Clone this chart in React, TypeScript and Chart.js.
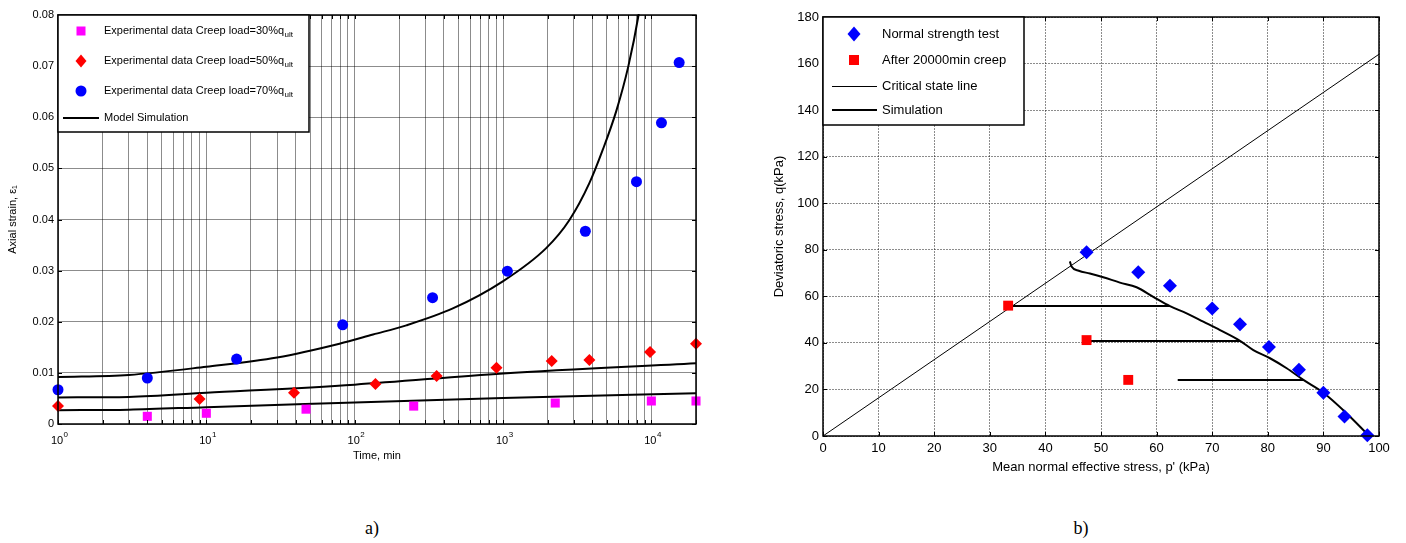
import React, { useEffect, useRef } from 'react';
import { Chart, registerables } from 'chart.js';

Chart.register(...registerables);

const FONT = '"Liberation Sans", Arial, Helvetica, sans-serif';

// ---------------- (a) creep tests: axial strain vs time ----------------
const timeDecades = [1, 10, 100, 1000, 10000];
const timeDecadeExponents = ['0', '1', '2', '3', '4'];
const timeMinorMultipliers = [1, 2, 3, 4, 5, 6, 7, 8, 9];
const timeMin = 1;
const timeMax = 20000;
const strainMin = 0;
const strainMax = 0.08;
const strainStep = 0.01;

const creep30Time = [4, 10, 47, 250, 2250, 10000, 20000];
const creep30Strain = [0.0015, 0.0021, 0.0029, 0.0035, 0.0041, 0.0045, 0.0045];

const creep50Time = [1, 9, 39, 138, 357, 904, 2130, 3820, 9800, 20000];
const creep50Strain = [0.0035, 0.0049, 0.0061, 0.0078, 0.0094, 0.011, 0.0123, 0.0125, 0.0141, 0.0157];

const creep70Time = [1, 4, 16, 83, 335, 1070, 3590, 7940, 11700, 15400];
const creep70Strain = [0.0067, 0.009, 0.0127, 0.0194, 0.0247, 0.0299, 0.0377, 0.0474, 0.0589, 0.0707];

const sim30Time = [1, 3, 10, 100, 1000, 20000];
const sim30Strain = [0.0027, 0.0028, 0.0033, 0.0042, 0.0051, 0.006];

const sim50Time = [1, 3, 10, 100, 1000, 20000];
const sim50Strain = [0.0052, 0.0053, 0.0061, 0.0077, 0.0099, 0.0119];

const sim70Time = [1, 3, 10, 30, 79, 133, 223, 459, 997, 1955, 2805, 3820, 4700, 5800, 7000, 8200, 9000];
const sim70Strain = [0.0092, 0.0096, 0.0112, 0.013, 0.0157, 0.0175, 0.0193, 0.0226, 0.0279, 0.0344, 0.0399, 0.0471, 0.0536, 0.0612, 0.07, 0.08, 0.088];

const leftLegendLabels = [
  'Experimental data Creep load=30%q',
  'Experimental data Creep load=50%q',
  'Experimental data Creep load=70%q',
  'Model Simulation',
];

// ---------------- (b) stress paths in p'-q plane ----------------
const pMin = 0;
const pMax = 100;
const pStep = 10;
const qMin = 0;
const qMax = 180;
const qStep = 20;

const strengthP = [47.4, 56.7, 62.4, 70.0, 75.0, 80.2, 85.6, 90.0, 93.8, 97.9];
const strengthQ = [78.9, 70.3, 64.6, 54.8, 48.0, 38.2, 28.5, 18.6, 8.4, 0.3];

const afterCreepP = [33.3, 47.4, 54.9];
const afterCreepQ = [56.0, 41.2, 24.1];

const cslP = [0, 100];
const cslQ = [0, 164];

const simP = [44.4, 44.7, 46.0, 48.0, 50.4, 53.4, 56.4, 59.4, 62.4, 65.4, 68.4, 71.4, 75.0, 77.4, 80.4, 83.4, 86.4, 90.0, 94.2, 97.8];
const simQ = [75.0, 72.8, 71.0, 69.8, 68.2, 65.9, 63.9, 59.8, 55.8, 52.7, 49.1, 45.5, 40.9, 36.9, 33.4, 29.1, 24.1, 18.6, 9.7, 1.1];

const creepPath1P = [33.6, 62.4];
const creepPath1Q = [55.8, 55.8];
const creepPath2P = [48.0, 75.0];
const creepPath2Q = [40.8, 40.8];
const creepPath3P = [63.8, 86.4];
const creepPath3Q = [24.1, 24.1];

const rightLegendLabels = ['Normal strength test', 'After 20000min creep', 'Critical state line', 'Simulation'];

const pts = (xs: number[], ys: number[]) => xs.map((x, i) => ({ x, y: ys[i] }));

const leftTimeTicks = timeDecades
  .flatMap((d) => timeMinorMultipliers.map((m) => m * d))
  .filter((v) => v <= timeMax);

function diamond(ctx: CanvasRenderingContext2D, x: number, y: number, rx: number, ry: number) {
  ctx.beginPath();
  ctx.moveTo(x, y - ry);
  ctx.lineTo(x + rx, y);
  ctx.lineTo(x, y + ry);
  ctx.lineTo(x - rx, y);
  ctx.closePath();
  ctx.fill();
}

function insideTicks(chart: any, len: number) {
  const { ctx, chartArea: a, scales } = chart;
  ctx.save();
  ctx.strokeStyle = '#000';
  ctx.lineWidth = 1;
  ctx.beginPath();
  scales.x.ticks.forEach((t: any) => {
    const px = Math.round(scales.x.getPixelForValue(t.value)) + 0.5;
    ctx.moveTo(px, a.bottom);
    ctx.lineTo(px, a.bottom - len);
    ctx.moveTo(px, a.top);
    ctx.lineTo(px, a.top + len);
  });
  scales.y.ticks.forEach((t: any) => {
    const py = Math.round(scales.y.getPixelForValue(t.value)) + 0.5;
    ctx.moveTo(a.left, py);
    ctx.lineTo(a.left + len, py);
    ctx.moveTo(a.right, py);
    ctx.lineTo(a.right - len, py);
  });
  ctx.stroke();
  ctx.lineWidth = 1.5;
  ctx.strokeRect(a.left, a.top, a.right - a.left, a.bottom - a.top);
  ctx.restore();
}

const leftDecor = {
  id: 'leftDecor',
  afterDraw(chart: any) {
    const { ctx, chartArea: a, scales } = chart;
    insideTicks(chart, 4);
    ctx.save();
    // decade labels with superscript exponents
    ctx.fillStyle = '#000';
    ctx.textBaseline = 'alphabetic';
    ctx.textAlign = 'left';
    timeDecades.forEach((d, i) => {
      const px = scales.x.getPixelForValue(d);
      ctx.font = `11px ${FONT}`;
      const w1 = ctx.measureText('10').width;
      const sx = px - w1 / 2 - 1;
      ctx.fillText('10', sx, a.bottom + 20);
      ctx.font = `8px ${FONT}`;
      ctx.fillText(timeDecadeExponents[i], sx + w1 + 0.5, a.bottom + 13);
    });
    // legend
    const L = a.left;
    const T = a.top;
    const W = 251;
    const H = 117;
    ctx.fillStyle = '#fff';
    ctx.fillRect(L, T, W, H);
    ctx.strokeStyle = '#000';
    ctx.lineWidth = 1.5;
    ctx.strokeRect(L, T, W, H);
    const mx = L + 23;
    const rows = [T + 16, T + 46, T + 76, T + 103];
    ctx.fillStyle = '#ff00ff';
    ctx.fillRect(mx - 4.5, rows[0] - 4.5, 9, 9);
    ctx.fillStyle = '#ff0000';
    diamond(ctx, mx, rows[1], 5.5, 6.5);
    ctx.fillStyle = '#0000ff';
    ctx.beginPath();
    ctx.arc(mx, rows[2], 5.5, 0, Math.PI * 2);
    ctx.fill();
    ctx.strokeStyle = '#000';
    ctx.lineWidth = 2;
    ctx.beginPath();
    ctx.moveTo(L + 5, rows[3]);
    ctx.lineTo(L + 41, rows[3]);
    ctx.stroke();
    ctx.fillStyle = '#000';
    ctx.textBaseline = 'middle';
    leftLegendLabels.forEach((txt, i) => {
      ctx.font = `11px ${FONT}`;
      const tx = L + 46;
      ctx.fillText(txt, tx, rows[i]);
      if (i < 3) {
        const w = ctx.measureText(txt).width;
        ctx.font = `8px ${FONT}`;
        ctx.fillText('ult', tx + w + 0.5, rows[i] + 4);
      }
    });
    ctx.restore();
  },
};

const rightDecor = {
  id: 'rightDecor',
  afterDraw(chart: any) {
    const { ctx, chartArea: a } = chart;
    insideTicks(chart, 4);
    ctx.save();
    const L = a.left;
    const T = a.top;
    const W = 201;
    const H = 108;
    ctx.fillStyle = '#fff';
    ctx.fillRect(L, T, W, H);
    ctx.strokeStyle = '#000';
    ctx.lineWidth = 1.5;
    ctx.strokeRect(L, T, W, H);
    const mx = L + 31;
    const rows = [T + 17, T + 43, T + 69, T + 93];
    ctx.fillStyle = '#0000ff';
    diamond(ctx, mx, rows[0], 6.5, 7.5);
    ctx.fillStyle = '#ff0000';
    ctx.fillRect(mx - 5, rows[1] - 5, 10, 10);
    ctx.strokeStyle = '#000';
    ctx.lineWidth = 1;
    ctx.beginPath();
    ctx.moveTo(L + 9, rows[2] + 0.5);
    ctx.lineTo(L + 54, rows[2] + 0.5);
    ctx.stroke();
    ctx.lineWidth = 2;
    ctx.beginPath();
    ctx.moveTo(L + 9, rows[3]);
    ctx.lineTo(L + 54, rows[3]);
    ctx.stroke();
    ctx.fillStyle = '#000';
    ctx.font = `13px ${FONT}`;
    ctx.textBaseline = 'middle';
    ctx.textAlign = 'left';
    rightLegendLabels.forEach((txt, i) => ctx.fillText(txt, L + 59, rows[i]));
    ctx.restore();
  },
};

const simLine = (data: any, width = 2, smooth = false, clip: any = 1) => ({
  data,
  showLine: true,
  borderColor: '#000',
  borderWidth: width,
  pointRadius: 0,
  pointHoverRadius: 0,
  tension: smooth ? 0.4 : 0,
  cubicInterpolationMode: smooth ? 'monotone' : 'default',
  fill: false,
  clip,
});

function leftConfig(): any {
  return {
    type: 'scatter',
    data: {
      datasets: [
        { data: pts(creep30Time, creep30Strain), pointStyle: 'rect', pointRadius: 6.4, backgroundColor: '#ff00ff', borderWidth: 0, clip: false },
        { data: pts(creep50Time, creep50Strain), pointStyle: 'rectRot', pointRadius: 6, backgroundColor: '#ff0000', borderWidth: 0, clip: false },
        { data: pts(creep70Time, creep70Strain), pointStyle: 'circle', pointRadius: 5.5, backgroundColor: '#0000ff', borderWidth: 0, clip: false },
        simLine(pts(sim30Time, sim30Strain), 2, true),
        simLine(pts(sim50Time, sim50Strain), 2, true),
        simLine(pts(sim70Time, sim70Strain), 2, true),
      ],
    },
    options: {
      animation: false,
      responsive: false,
      events: [],
      layout: { padding: { top: 15, right: 24, left: 0, bottom: 0 } },
      plugins: { legend: { display: false }, tooltip: { enabled: false } },
      scales: {
        x: {
          type: 'logarithmic',
          min: timeMin,
          max: timeMax,
          afterBuildTicks: (s: any) => {
            s.ticks = leftTimeTicks.map((v) => ({ value: v }));
          },
          afterFit: (s: any) => {
            s.height = 56;
          },
          ticks: { callback: () => '', autoSkip: false, maxRotation: 0 },
          grid: { color: 'rgba(0,0,0,0.45)', lineWidth: 1, drawTicks: false },
          border: { display: false },
          title: { display: true, text: 'Time, min', color: '#000', font: { size: 11, family: FONT }, padding: { top: 0, bottom: 17 } },
        },
        y: {
          type: 'linear',
          min: strainMin,
          max: strainMax,
          afterFit: (s: any) => {
            s.width = 58;
          },
          ticks: {
            stepSize: strainStep,
            color: '#000',
            padding: 4,
            font: { size: 11, family: FONT },
            callback: (v: any) => (Number(v) === 0 ? '0' : Number(v).toFixed(2)),
          },
          grid: { color: 'rgba(0,0,0,0.45)', lineWidth: 1, drawTicks: false },
          border: { display: false },
          title: { display: true, text: 'Axial strain, ε₁', color: '#000', font: { size: 11, family: FONT }, padding: { top: 6, bottom: 0 } },
        },
      },
    },
    plugins: [leftDecor],
  };
}

function rightConfig(): any {
  return {
    type: 'scatter',
    data: {
      datasets: [
        { data: pts(strengthP, strengthQ), pointStyle: 'rectRot', pointRadius: 7, backgroundColor: '#0000ff', borderWidth: 0, clip: false },
        { data: pts(afterCreepP, afterCreepQ), pointStyle: 'rect', pointRadius: 7, backgroundColor: '#ff0000', borderWidth: 0, clip: false },
        simLine(pts(cslP, cslQ), 1),
        simLine(pts(simP, simQ), 2, true),
        simLine(pts(creepPath1P, creepPath1Q), 2),
        simLine(pts(creepPath2P, creepPath2Q), 2),
        simLine(pts(creepPath3P, creepPath3Q), 2),
      ],
    },
    options: {
      animation: false,
      responsive: false,
      events: [],
      layout: { padding: { top: 17, right: 27, left: 0, bottom: 0 } },
      plugins: { legend: { display: false }, tooltip: { enabled: false } },
      scales: {
        x: {
          type: 'linear',
          min: pMin,
          max: pMax,
          afterFit: (s: any) => {
            s.height = 44;
          },
          ticks: { stepSize: pStep, color: '#000', padding: 5, font: { size: 13, family: FONT }, maxRotation: 0 },
          grid: { color: 'rgba(0,0,0,0.45)', lineWidth: 1, drawTicks: false },
          border: { display: false, dash: [2, 1] },
          title: { display: true, text: "Mean normal effective stress, p' (kPa)", color: '#000', font: { size: 13, family: FONT }, padding: { top: 0, bottom: 5 } },
        },
        y: {
          type: 'linear',
          min: qMin,
          max: qMax,
          afterFit: (s: any) => {
            s.width = 63;
          },
          ticks: { stepSize: qStep, color: '#000', padding: 4, font: { size: 13, family: FONT } },
          grid: { color: 'rgba(0,0,0,0.45)', lineWidth: 1, drawTicks: false },
          border: { display: false, dash: [2, 1] },
          title: { display: true, text: 'Deviatoric stress, q(kPa)', color: '#000', font: { size: 13, family: FONT }, padding: { top: 12, bottom: 0 } },
        },
      },
    },
    plugins: [rightDecor],
  };
}

export default function App() {
  const leftRef = useRef<HTMLCanvasElement>(null);
  const rightRef = useRef<HTMLCanvasElement>(null);

  useEffect(() => {
    Chart.defaults.font.family = FONT;
    Chart.defaults.color = '#000';
    const left = new Chart(leftRef.current as HTMLCanvasElement, leftConfig());
    const right = new Chart(rightRef.current as HTMLCanvasElement, rightConfig());
    return () => {
      left.destroy();
      right.destroy();
    };
  }, []);

  const caption: React.CSSProperties = {
    position: 'absolute',
    top: 517,
    width: 40,
    textAlign: 'center',
    fontFamily: '"Liberation Serif", "Times New Roman", serif',
    fontSize: 18,
    lineHeight: '22px',
    color: '#000',
  };

  return (
    <div style={{ position: 'fixed', left: 0, top: 0, width: 1406, height: 543, background: '#fff', overflow: 'hidden' }}>
      <canvas ref={leftRef} width={720} height={480} style={{ position: 'absolute', left: 0, top: 0, width: 720, height: 480 }} />
      <canvas ref={rightRef} width={646} height={480} style={{ position: 'absolute', left: 760, top: 0, width: 646, height: 480 }} />
      <div style={{ ...caption, left: 352 }}>a)</div>
      <div style={{ ...caption, left: 1061 }}>b)</div>
    </div>
  );
}
